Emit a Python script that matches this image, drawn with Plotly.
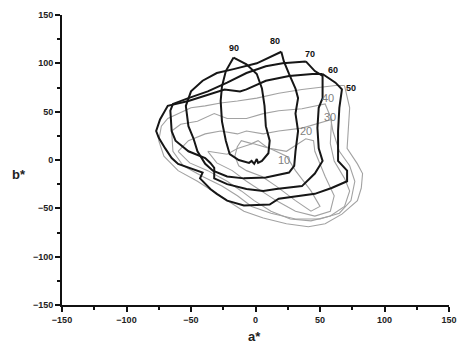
import plotly.graph_objects as go

# Constant-lightness slices of the gamut in the a*b* plane (L* = 10 ... 90)
L10_a = [-14, -11, -3, 2, 8, 16, 24, 31, 43, 50, 43, 31, 16, 5, -7, -13, -16]
L10_b = [14, 20, 17, 20, 14, 9, 4, -11, -32, -48, -53, -42, -27, -17, -11, -6, 4]

L20_a = [-37, -22, -14, -2, 11, 24, 39, 45, 46, 54, 61, 58, 46, 31, 16, 5, -7, -18, -30]
L20_b = [9, 6, 12, 17, 12, 9, 22, 20, 9, -17, -37, -53, -58, -53, -42, -32, -22, -11, -3]

L30_a = [-60, -52, -39, -27, -14, -7, 6, 18, 36, 59, 58, 61, 69, 73, 69, 58, 43, 27, 12, -1, -11, -22, -37, -51]
L30_b = [9, 20, 27, 30, 27, 30, 27, 30, 33, 42, 17, -1, -19, -32, -48, -58, -63, -61, -53, -42, -32, -22, -11, -3]

L40_a = [-65, -58, -45, -32, -22, -7, 6, 18, 36, 54, 58, 60, 65, 73, 77, 74, 65, 50, 31, 12, -3, -14, -26, -41, -56, -64]
L40_b = [30, 37, 40, 48, 43, 43, 48, 51, 53, 58, 45, 30, 9, -6, -22, -42, -55, -61, -61, -55, -48, -37, -27, -17, -6, 9]

L50_a = [69, 71, 73, 71, 79, 83, 82, 79, 67, 54, 41, 24, 6, -9, -22, -33, -45, -60, -71, -75, -73, -68, -60, -50, -39, -27, -14, 1, 18, 36, 62]
L50_b = [77, 64, 54, 12, -4, -14, -29, -42, -56, -66, -69, -66, -60, -53, -42, -32, -22, -11, 4, 20, 35, 43, 48, 54, 56, 59, 61, 64, 69, 73, 77]

L60_a = [52, 44, 26, 8, -7, -12, -24, -39, -52, -68, -74, -77, -75, -70, -65, -60, -50, -41, -43, -39, -35, -30, -22, -9, 11, 18, 31, 46, 59, 71, 71, 64, 64, 65, 67, 62]
L60_b = [89, 89, 87, 82, 73, 71, 73, 67, 61, 56, 42, 30, 23, 12, 2, -4, -9, -13, -19, -25, -30, -35, -42, -47, -46, -40, -38, -35, -29, -22, -11, -1, 30, 54, 73, 80]

L70_a = [39, 21, 8, -7, -22, -37, -52, -64, -66, -65, -62, -52, -39, -35, -32, -32, -22, -7, 6, 16, 36, 46, 52, 49, 48, 49, 52, 52, 46]
L70_b = [102, 100, 97, 90, 80, 71, 64, 58, 51, 30, 20, 9, 2, -3, -8, -19, -25, -30, -32, -30, -27, -14, -1, 12, 33, 54, 64, 87, 92]

L80_a = [20, 1, -17, -30, -41, -50, -54, -52, -48, -45, -39, -33, -22, -9, 8, 26, 30, 31, 33, 31, 33, 31, 26, 22]
L80_b = [112, 100, 94, 90, 82, 71, 56, 35, 22, 9, -4, -11, -17, -19, -18, -13, -6, 9, 30, 48, 64, 74, 89, 102]

L90_a = [-17, -7, 1, 5, 7, 8, 11, 10, 5, 2, 1, -1, -3, -5, -13, -20, -23, -26, -27, -26, -23]
L90_b = [106, 99, 89, 74, 56, 35, 20, 7, -1, -3, 1, -4, -1, -3, 0, 6, 20, 40, 61, 76, 92]

lightness = [10, 20, 30, 40, 50, 60, 70, 80, 90]
slices_a = [L10_a, L20_a, L30_a, L40_a, L50_a, L60_a, L70_a, L80_a, L90_a]
slices_b = [L10_b, L20_b, L30_b, L40_b, L50_b, L60_b, L70_b, L80_b, L90_b]

# Where each lightness value is written next to its slice
label_a = [22, 39, 58, 56, 74, 60, 42, 15, -17]
label_b = [0, 30, 45, 64, 74, 93, 110, 123, 116]

fig = go.Figure()
for L, xs, ys in zip(lightness, slices_a, slices_b):
    dark = L >= 60
    fig.add_trace(go.Scatter(
        x=xs + xs[:1], y=ys + ys[:1], mode="lines",
        line=dict(color="#161616" if dark else "#a2a2a2", width=2.0 if dark else 1.1),
        showlegend=False, hoverinfo="skip",
    ))

for L, xa, yb in zip(lightness, label_a, label_b):
    bold = L >= 50
    fig.add_annotation(
        x=xa, y=yb, text=f"<b>{L}</b>" if bold else str(L), showarrow=False,
        font=dict(family="Arial, Liberation Sans", size=9 if bold else 11,
                  color="#111111" if bold else "#808080"),
    )

axis_common = dict(
    range=[-150, 150], dtick=50, tick0=-150,
    showgrid=False, zeroline=False,
    showline=True, linecolor="#111111", linewidth=2,
    ticks="outside", ticklen=5, tickwidth=2, tickcolor="#111111",
    minor=dict(dtick=25, ticks="outside", ticklen=3, tickwidth=2, tickcolor="#111111", showgrid=False),
    tickfont=dict(family="Arial Black, Liberation Sans", size=9, color="#222222"),
)
fig.update_xaxes(**axis_common)
fig.update_yaxes(**axis_common)
fig.update_xaxes(tickprefix="<b>", ticksuffix="</b>")
fig.update_yaxes(tickprefix="<b>", ticksuffix="</b>")

fig.add_annotation(xref="paper", yref="paper", x=0.497, y=-0.107, yanchor="middle",
                   text="<b>a*</b>", showarrow=False,
                   font=dict(family="Arial, Liberation Sans", size=13, color="#222222"))
fig.add_annotation(xref="paper", yref="paper", x=-0.111, y=-0.45 + 0.9, xanchor="center",
                   yanchor="middle",
                   text="<b>b*</b>", showarrow=False,
                   font=dict(family="Arial, Liberation Sans", size=13, color="#222222"))

fig.update_layout(
    width=467, height=351,
    margin=dict(l=62, r=10, t=15, b=46),
    paper_bgcolor="white", plot_bgcolor="white",
)
fig.write_html("out.html")
